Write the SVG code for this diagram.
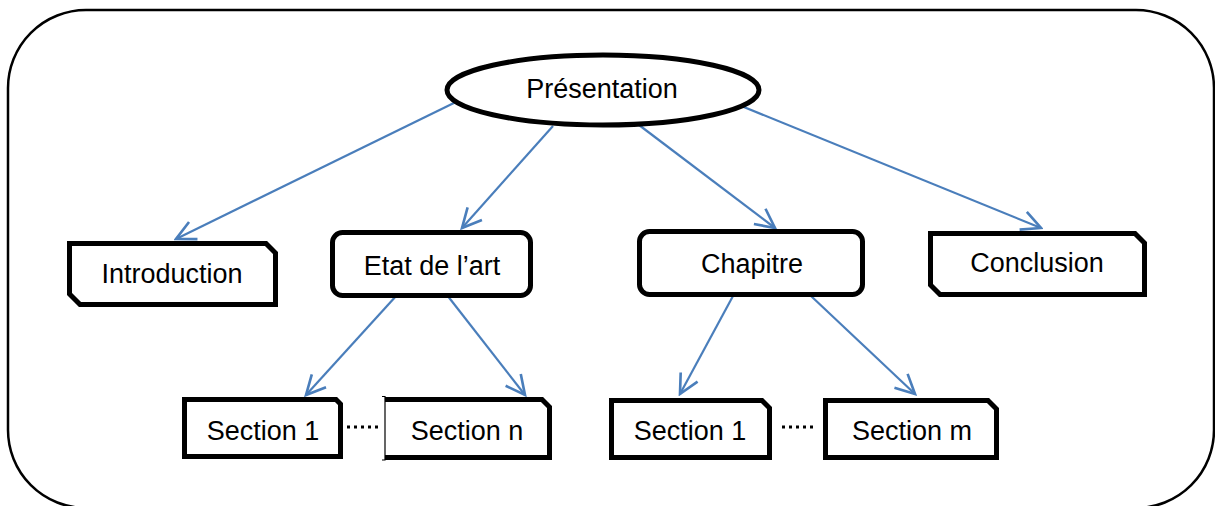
<svg xmlns="http://www.w3.org/2000/svg" width="1215" height="506" viewBox="0 0 1215 506">
  <style>
    .frame { fill: none; stroke: #000; stroke-width: 2.5; }
    .box { fill: #fff; stroke: #000; stroke-width: 5; stroke-linejoin: miter; }
    .thin { fill: none; stroke: #000; stroke-width: 1.2; }
    .lbl { font-family: "Liberation Sans", Arial, sans-serif; font-size: 27px; fill: #000; text-anchor: middle; }
    .edge { fill: none; stroke: #4a7ebb; stroke-width: 2.2; marker-end: url(#arrow); }
    .dots { fill: none; stroke: #000; stroke-width: 3; stroke-dasharray: 3 4; }
  </style>
  <defs>
    <marker id="arrow" markerUnits="userSpaceOnUse" markerWidth="24" markerHeight="24" viewBox="-18 -10 20 20" refX="0" refY="0" orient="auto">
      <path d="M -16 -8 L 0 0 L -16 8" fill="none" stroke="#4a7ebb" stroke-width="2.2" stroke-linejoin="miter"/>
    </marker>
  </defs>
  <rect width="1215" height="506" fill="#fff"/>

  <!-- outer frame (bottom edge runs just past the canvas) -->
  <rect class="frame" x="8" y="10" width="1206" height="498" rx="78" ry="78"/>

  <!-- connectors -->
  <g id="connectors">
    <path class="edge" d="M 460 100 L 176 239"/>
    <path class="edge" d="M 553 126 L 462 228"/>
    <path class="edge" d="M 639 125 L 775 228"/>
    <path class="edge" d="M 734 103 L 1041 228"/>
    <path class="edge" d="M 397 295 L 306 395"/>
    <path class="edge" d="M 447 295 L 525 395"/>
    <path class="edge" d="M 733 296 L 680 394"/>
    <path class="edge" d="M 811 296 L 915 394"/>
  </g>

  <g id="presentation">
    <ellipse class="box" cx="603" cy="90" rx="156" ry="35"/>
    <text class="lbl" x="602" y="98">Présentation</text>
  </g>

  <g id="introduction">
    <path class="box" d="M 69.5 243.5 L 266 243.5 L 275.5 253 L 275.5 304.5 L 80 304.5 L 69.5 294 Z"/>
    <text class="lbl" x="172" y="283">Introduction</text>
  </g>

  <g id="etat-de-l-art">
    <rect class="box" x="332.5" y="232.5" width="198" height="63" rx="10" ry="10"/>
    <text class="lbl" x="432" y="275">Etat de l’art</text>
  </g>

  <g id="chapitre">
    <rect class="box" x="639.5" y="231.5" width="223" height="63" rx="10" ry="10"/>
    <text class="lbl" x="752" y="273">Chapitre</text>
  </g>

  <g id="conclusion">
    <path class="box" d="M 930.5 233.5 L 1135 233.5 L 1144.5 243 L 1144.5 294.5 L 940 294.5 L 930.5 285 Z"/>
    <text class="lbl" x="1037" y="272">Conclusion</text>
  </g>

  <g id="section-1-a">
    <path class="box" d="M 184.5 399.5 L 336 399.5 L 340.5 404 L 340.5 456.5 L 184.5 456.5 Z"/>
    <text class="lbl" x="263" y="440">Section 1</text>
  </g>

  <line class="dots" x1="347" y1="427" x2="382" y2="427"/>

  <g id="section-n">
    <path class="box" d="M 385 399.5 L 542 399.5 L 549.5 407 L 549.5 457.5 L 385 457.5" fill="#fff"/>
    <path class="thin" d="M 382 396.5 L 385 396.5 L 385 460 L 382 460"/>
    <text class="lbl" x="467" y="440">Section n</text>
  </g>

  <g id="section-1-b">
    <path class="box" d="M 611.5 400.5 L 762 400.5 L 769.5 408 L 769.5 457.5 L 611.5 457.5 Z"/>
    <text class="lbl" x="690" y="440">Section 1</text>
  </g>

  <line class="dots" x1="782" y1="427" x2="817" y2="427"/>

  <g id="section-m">
    <path class="box" d="M 825.5 400.5 L 988 400.5 L 996.5 409 L 996.5 457.5 L 825.5 457.5 Z"/>
    <text class="lbl" x="912" y="440">Section m</text>
  </g>
</svg>
